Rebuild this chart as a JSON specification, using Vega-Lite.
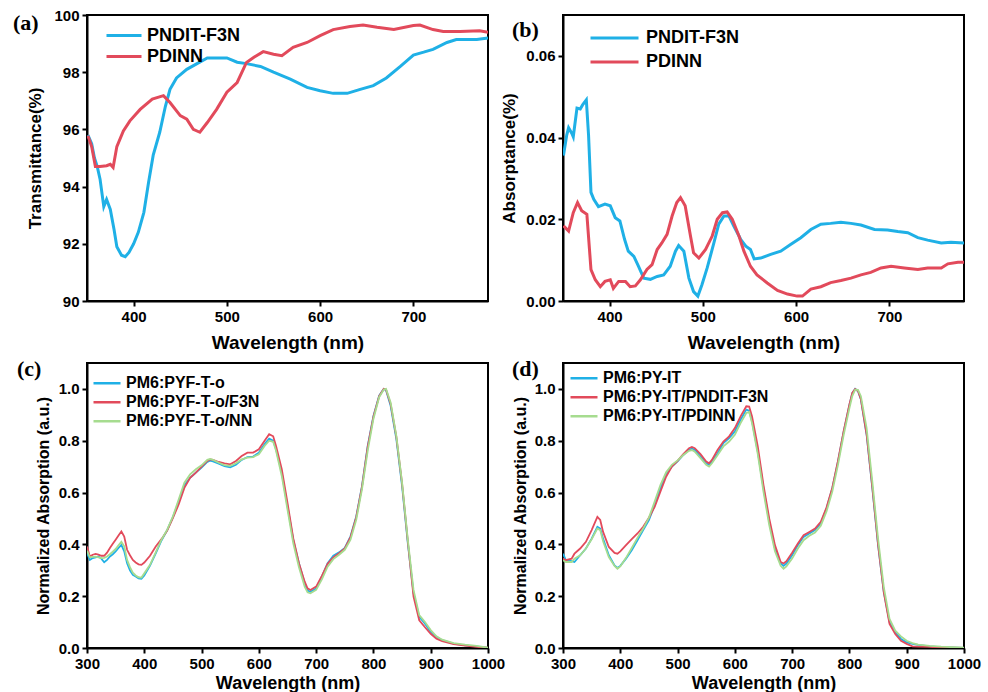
{
"$schema":"https://vega.github.io/schema/vega-lite/v6.json",
"padding":{"left":12,"top":7,"right":5,"bottom":5},
"bounds":"flush",
"columns":2,
"spacing":{"row":62,"column":75},
"resolve":{"scale":{"color":"independent","x":"independent","y":"independent"},"legend":{"color":"independent"}},
"datasets":{
"a":[
{"w":351,"s":"PNDIT-F3N","v":95.8},{"w":355,"s":"PNDIT-F3N","v":95.5},{"w":358,"s":"PNDIT-F3N","v":95.0},{"w":361,"s":"PNDIT-F3N","v":94.7},{"w":364,"s":"PNDIT-F3N","v":94.26},{"w":368,"s":"PNDIT-F3N","v":93.3},{"w":371,"s":"PNDIT-F3N","v":93.55},{"w":375,"s":"PNDIT-F3N","v":93.2},{"w":379,"s":"PNDIT-F3N","v":92.5},{"w":382,"s":"PNDIT-F3N","v":91.9},{"w":387,"s":"PNDIT-F3N","v":91.6},{"w":391,"s":"PNDIT-F3N","v":91.55},{"w":395,"s":"PNDIT-F3N","v":91.7},{"w":400,"s":"PNDIT-F3N","v":92.0},{"w":405,"s":"PNDIT-F3N","v":92.4},{"w":411,"s":"PNDIT-F3N","v":93.1},{"w":416,"s":"PNDIT-F3N","v":94.14},{"w":421,"s":"PNDIT-F3N","v":95.1},{"w":428,"s":"PNDIT-F3N","v":95.9},{"w":434,"s":"PNDIT-F3N","v":96.8},{"w":439,"s":"PNDIT-F3N","v":97.4},{"w":446,"s":"PNDIT-F3N","v":97.8},{"w":457,"s":"PNDIT-F3N","v":98.1},{"w":468,"s":"PNDIT-F3N","v":98.3},{"w":479,"s":"PNDIT-F3N","v":98.5},{"w":489,"s":"PNDIT-F3N","v":98.5},{"w":500,"s":"PNDIT-F3N","v":98.5},{"w":511,"s":"PNDIT-F3N","v":98.35},{"w":521,"s":"PNDIT-F3N","v":98.3},{"w":536,"s":"PNDIT-F3N","v":98.2},{"w":550,"s":"PNDIT-F3N","v":98.0},{"w":568,"s":"PNDIT-F3N","v":97.76},{"w":586,"s":"PNDIT-F3N","v":97.47},{"w":600,"s":"PNDIT-F3N","v":97.35},{"w":614,"s":"PNDIT-F3N","v":97.26},{"w":629,"s":"PNDIT-F3N","v":97.26},{"w":643,"s":"PNDIT-F3N","v":97.4},{"w":657,"s":"PNDIT-F3N","v":97.53},{"w":671,"s":"PNDIT-F3N","v":97.8},{"w":686,"s":"PNDIT-F3N","v":98.2},{"w":700,"s":"PNDIT-F3N","v":98.6},{"w":711,"s":"PNDIT-F3N","v":98.7},{"w":721,"s":"PNDIT-F3N","v":98.8},{"w":736,"s":"PNDIT-F3N","v":99.04},{"w":746,"s":"PNDIT-F3N","v":99.14},{"w":768,"s":"PNDIT-F3N","v":99.14},{"w":780,"s":"PNDIT-F3N","v":99.2},
{"w":351,"s":"PDINN","v":95.78},{"w":355,"s":"PDINN","v":95.4},{"w":359,"s":"PDINN","v":94.7},{"w":364,"s":"PDINN","v":94.7},{"w":371,"s":"PDINN","v":94.73},{"w":375,"s":"PDINN","v":94.78},{"w":378,"s":"PDINN","v":94.67},{"w":382,"s":"PDINN","v":95.4},{"w":389,"s":"PDINN","v":95.95},{"w":396,"s":"PDINN","v":96.3},{"w":407,"s":"PDINN","v":96.7},{"w":420,"s":"PDINN","v":97.06},{"w":432,"s":"PDINN","v":97.18},{"w":439,"s":"PDINN","v":96.94},{"w":450,"s":"PDINN","v":96.48},{"w":457,"s":"PDINN","v":96.36},{"w":464,"s":"PDINN","v":96.0},{"w":471,"s":"PDINN","v":95.9},{"w":479,"s":"PDINN","v":96.24},{"w":489,"s":"PDINN","v":96.7},{"w":500,"s":"PDINN","v":97.3},{"w":511,"s":"PDINN","v":97.64},{"w":521,"s":"PDINN","v":98.34},{"w":529,"s":"PDINN","v":98.52},{"w":539,"s":"PDINN","v":98.72},{"w":550,"s":"PDINN","v":98.63},{"w":559,"s":"PDINN","v":98.58},{"w":571,"s":"PDINN","v":98.87},{"w":586,"s":"PDINN","v":99.04},{"w":600,"s":"PDINN","v":99.28},{"w":614,"s":"PDINN","v":99.49},{"w":632,"s":"PDINN","v":99.6},{"w":646,"s":"PDINN","v":99.65},{"w":661,"s":"PDINN","v":99.57},{"w":679,"s":"PDINN","v":99.49},{"w":700,"s":"PDINN","v":99.63},{"w":707,"s":"PDINN","v":99.65},{"w":721,"s":"PDINN","v":99.49},{"w":732,"s":"PDINN","v":99.42},{"w":750,"s":"PDINN","v":99.42},{"w":771,"s":"PDINN","v":99.45},{"w":780,"s":"PDINN","v":99.4}
],
"b":[
{"w":350.5,"s":"PNDIT-F3N","v":0.0356},{"w":354,"s":"PNDIT-F3N","v":0.0406},{"w":356,"s":"PNDIT-F3N","v":0.0424},{"w":359.5,"s":"PNDIT-F3N","v":0.041},{"w":361,"s":"PNDIT-F3N","v":0.0402},{"w":365,"s":"PNDIT-F3N","v":0.0472},{"w":368.5,"s":"PNDIT-F3N","v":0.047},{"w":371,"s":"PNDIT-F3N","v":0.048},{"w":375,"s":"PNDIT-F3N","v":0.0492},{"w":377.4,"s":"PNDIT-F3N","v":0.0406},{"w":380,"s":"PNDIT-F3N","v":0.0266},{"w":383,"s":"PNDIT-F3N","v":0.0249},{"w":388,"s":"PNDIT-F3N","v":0.0231},{"w":395,"s":"PNDIT-F3N","v":0.0237},{"w":400.7,"s":"PNDIT-F3N","v":0.0233},{"w":406,"s":"PNDIT-F3N","v":0.0204},{"w":411,"s":"PNDIT-F3N","v":0.0196},{"w":416,"s":"PNDIT-F3N","v":0.0151},{"w":420,"s":"PNDIT-F3N","v":0.0122},{"w":426,"s":"PNDIT-F3N","v":0.0109},{"w":431,"s":"PNDIT-F3N","v":0.0085},{"w":436.6,"s":"PNDIT-F3N","v":0.0056},{"w":443.7,"s":"PNDIT-F3N","v":0.0053},{"w":451,"s":"PNDIT-F3N","v":0.006},{"w":458,"s":"PNDIT-F3N","v":0.0064},{"w":465,"s":"PNDIT-F3N","v":0.0085},{"w":470.6,"s":"PNDIT-F3N","v":0.0122},{"w":474,"s":"PNDIT-F3N","v":0.0136},{"w":479.6,"s":"PNDIT-F3N","v":0.0122},{"w":485,"s":"PNDIT-F3N","v":0.0056},{"w":490,"s":"PNDIT-F3N","v":0.0023},{"w":494.6,"s":"PNDIT-F3N","v":0.0012},{"w":499,"s":"PNDIT-F3N","v":0.004},{"w":504.6,"s":"PNDIT-F3N","v":0.0081},{"w":511.8,"s":"PNDIT-F3N","v":0.0142},{"w":517,"s":"PNDIT-F3N","v":0.0188},{"w":522.6,"s":"PNDIT-F3N","v":0.0208},{"w":528,"s":"PNDIT-F3N","v":0.0208},{"w":533,"s":"PNDIT-F3N","v":0.0184},{"w":540.5,"s":"PNDIT-F3N","v":0.0151},{"w":546,"s":"PNDIT-F3N","v":0.0134},{"w":551,"s":"PNDIT-F3N","v":0.0126},{"w":555,"s":"PNDIT-F3N","v":0.0103},{"w":562,"s":"PNDIT-F3N","v":0.0105},{"w":572.7,"s":"PNDIT-F3N","v":0.0114},{"w":583.5,"s":"PNDIT-F3N","v":0.0122},{"w":594,"s":"PNDIT-F3N","v":0.0138},{"w":605,"s":"PNDIT-F3N","v":0.0155},{"w":615.8,"s":"PNDIT-F3N","v":0.0175},{"w":626.5,"s":"PNDIT-F3N","v":0.0188},{"w":637,"s":"PNDIT-F3N","v":0.019},{"w":648,"s":"PNDIT-F3N","v":0.0193},{"w":658.8,"s":"PNDIT-F3N","v":0.019},{"w":669.5,"s":"PNDIT-F3N","v":0.0186},{"w":684,"s":"PNDIT-F3N","v":0.0175},{"w":698,"s":"PNDIT-F3N","v":0.0174},{"w":709,"s":"PNDIT-F3N","v":0.017},{"w":719.7,"s":"PNDIT-F3N","v":0.0167},{"w":730.5,"s":"PNDIT-F3N","v":0.0155},{"w":741,"s":"PNDIT-F3N","v":0.0149},{"w":755.6,"s":"PNDIT-F3N","v":0.0142},{"w":766,"s":"PNDIT-F3N","v":0.0144},{"w":780,"s":"PNDIT-F3N","v":0.0142},
{"w":350.5,"s":"PDINN","v":0.0184},{"w":356,"s":"PDINN","v":0.0171},{"w":361,"s":"PDINN","v":0.0216},{"w":365.6,"s":"PDINN","v":0.0241},{"w":370,"s":"PDINN","v":0.0221},{"w":375.6,"s":"PDINN","v":0.0212},{"w":380,"s":"PDINN","v":0.0077},{"w":384.6,"s":"PDINN","v":0.0052},{"w":390,"s":"PDINN","v":0.0035},{"w":395,"s":"PDINN","v":0.0048},{"w":400.7,"s":"PDINN","v":0.0052},{"w":404,"s":"PDINN","v":0.0031},{"w":409.7,"s":"PDINN","v":0.0048},{"w":417,"s":"PDINN","v":0.0048},{"w":422,"s":"PDINN","v":0.0035},{"w":427.6,"s":"PDINN","v":0.0037},{"w":433,"s":"PDINN","v":0.0052},{"w":440,"s":"PDINN","v":0.0077},{"w":445.5,"s":"PDINN","v":0.0089},{"w":451,"s":"PDINN","v":0.0126},{"w":456,"s":"PDINN","v":0.0142},{"w":461.6,"s":"PDINN","v":0.0163},{"w":467,"s":"PDINN","v":0.0208},{"w":472,"s":"PDINN","v":0.0241},{"w":476,"s":"PDINN","v":0.0253},{"w":481,"s":"PDINN","v":0.0233},{"w":486.7,"s":"PDINN","v":0.0159},{"w":490,"s":"PDINN","v":0.0118},{"w":495.7,"s":"PDINN","v":0.0105},{"w":502.9,"s":"PDINN","v":0.0126},{"w":510,"s":"PDINN","v":0.0159},{"w":515.4,"s":"PDINN","v":0.02},{"w":521,"s":"PDINN","v":0.0216},{"w":526,"s":"PDINN","v":0.0218},{"w":531.5,"s":"PDINN","v":0.02},{"w":538.7,"s":"PDINN","v":0.0159},{"w":544,"s":"PDINN","v":0.0122},{"w":551,"s":"PDINN","v":0.0085},{"w":558,"s":"PDINN","v":0.0064},{"w":569,"s":"PDINN","v":0.0044},{"w":580,"s":"PDINN","v":0.0026},{"w":590.7,"s":"PDINN","v":0.0017},{"w":601,"s":"PDINN","v":0.0012},{"w":606.8,"s":"PDINN","v":0.0012},{"w":615.8,"s":"PDINN","v":0.0029},{"w":626.5,"s":"PDINN","v":0.0035},{"w":637,"s":"PDINN","v":0.0045},{"w":648,"s":"PDINN","v":0.005},{"w":658.8,"s":"PDINN","v":0.0056},{"w":669.5,"s":"PDINN","v":0.0064},{"w":680,"s":"PDINN","v":0.007},{"w":691,"s":"PDINN","v":0.0081},{"w":701.8,"s":"PDINN","v":0.0085},{"w":716,"s":"PDINN","v":0.0081},{"w":730.5,"s":"PDINN","v":0.0077},{"w":741,"s":"PDINN","v":0.0081},{"w":755.6,"s":"PDINN","v":0.0081},{"w":762.7,"s":"PDINN","v":0.0091},{"w":773.5,"s":"PDINN","v":0.0095},{"w":780,"s":"PDINN","v":0.0095}
],
"c":[
{"w":300,"PM6:PYF-T-o":0.366,"PM6:PYF-T-o/F3N":0.392,"PM6:PYF-T-o/NN":0.376},
{"w":305,"PM6:PYF-T-o":0.340,"PM6:PYF-T-o/F3N":0.353,"PM6:PYF-T-o/NN":0.350},
{"w":310,"PM6:PYF-T-o":0.347,"PM6:PYF-T-o/F3N":0.360,"PM6:PYF-T-o/NN":0.352},
{"w":315,"PM6:PYF-T-o":0.350,"PM6:PYF-T-o/F3N":0.363,"PM6:PYF-T-o/NN":0.353},
{"w":320,"PM6:PYF-T-o":0.353,"PM6:PYF-T-o/F3N":0.360,"PM6:PYF-T-o/NN":0.350},
{"w":325,"PM6:PYF-T-o":0.345,"PM6:PYF-T-o/F3N":0.356,"PM6:PYF-T-o/NN":0.347},
{"w":330,"PM6:PYF-T-o":0.331,"PM6:PYF-T-o/F3N":0.356,"PM6:PYF-T-o/NN":0.348},
{"w":335,"PM6:PYF-T-o":0.340,"PM6:PYF-T-o/F3N":0.368,"PM6:PYF-T-o/NN":0.353},
{"w":340,"PM6:PYF-T-o":0.353,"PM6:PYF-T-o/F3N":0.386,"PM6:PYF-T-o/NN":0.362},
{"w":345,"PM6:PYF-T-o":0.362,"PM6:PYF-T-o/F3N":0.402,"PM6:PYF-T-o/NN":0.372},
{"w":350,"PM6:PYF-T-o":0.373,"PM6:PYF-T-o/F3N":0.418,"PM6:PYF-T-o/NN":0.382},
{"w":355,"PM6:PYF-T-o":0.386,"PM6:PYF-T-o/F3N":0.434,"PM6:PYF-T-o/NN":0.396},
{"w":360,"PM6:PYF-T-o":0.398,"PM6:PYF-T-o/F3N":0.450,"PM6:PYF-T-o/NN":0.410},
{"w":365,"PM6:PYF-T-o":0.373,"PM6:PYF-T-o/F3N":0.430,"PM6:PYF-T-o/NN":0.392},
{"w":370,"PM6:PYF-T-o":0.327,"PM6:PYF-T-o/F3N":0.379,"PM6:PYF-T-o/NN":0.340},
{"w":375,"PM6:PYF-T-o":0.300,"PM6:PYF-T-o/F3N":0.358,"PM6:PYF-T-o/NN":0.312},
{"w":380,"PM6:PYF-T-o":0.282,"PM6:PYF-T-o/F3N":0.340,"PM6:PYF-T-o/NN":0.291},
{"w":385,"PM6:PYF-T-o":0.276,"PM6:PYF-T-o/F3N":0.330,"PM6:PYF-T-o/NN":0.280},
{"w":390,"PM6:PYF-T-o":0.269,"PM6:PYF-T-o/F3N":0.323,"PM6:PYF-T-o/NN":0.273},
{"w":395,"PM6:PYF-T-o":0.267,"PM6:PYF-T-o/F3N":0.321,"PM6:PYF-T-o/NN":0.272},
{"w":400,"PM6:PYF-T-o":0.280,"PM6:PYF-T-o/F3N":0.330,"PM6:PYF-T-o/NN":0.288},
{"w":410,"PM6:PYF-T-o":0.318,"PM6:PYF-T-o/F3N":0.356,"PM6:PYF-T-o/NN":0.321},
{"w":420,"PM6:PYF-T-o":0.365,"PM6:PYF-T-o/F3N":0.392,"PM6:PYF-T-o/NN":0.369},
{"w":430,"PM6:PYF-T-o":0.415,"PM6:PYF-T-o/F3N":0.420,"PM6:PYF-T-o/NN":0.418},
{"w":440,"PM6:PYF-T-o":0.455,"PM6:PYF-T-o/F3N":0.453,"PM6:PYF-T-o/NN":0.457},
{"w":450,"PM6:PYF-T-o":0.505,"PM6:PYF-T-o/F3N":0.502,"PM6:PYF-T-o/NN":0.508},
{"w":460,"PM6:PYF-T-o":0.565,"PM6:PYF-T-o/F3N":0.554,"PM6:PYF-T-o/NN":0.573},
{"w":470,"PM6:PYF-T-o":0.628,"PM6:PYF-T-o/F3N":0.618,"PM6:PYF-T-o/NN":0.638},
{"w":480,"PM6:PYF-T-o":0.657,"PM6:PYF-T-o/F3N":0.657,"PM6:PYF-T-o/NN":0.670},
{"w":490,"PM6:PYF-T-o":0.677,"PM6:PYF-T-o/F3N":0.677,"PM6:PYF-T-o/NN":0.690},
{"w":500,"PM6:PYF-T-o":0.696,"PM6:PYF-T-o/F3N":0.700,"PM6:PYF-T-o/NN":0.705},
{"w":510,"PM6:PYF-T-o":0.718,"PM6:PYF-T-o/F3N":0.722,"PM6:PYF-T-o/NN":0.726},
{"w":515,"PM6:PYF-T-o":0.723,"PM6:PYF-T-o/F3N":0.728,"PM6:PYF-T-o/NN":0.730},
{"w":520,"PM6:PYF-T-o":0.720,"PM6:PYF-T-o/F3N":0.726,"PM6:PYF-T-o/NN":0.726},
{"w":530,"PM6:PYF-T-o":0.711,"PM6:PYF-T-o/F3N":0.718,"PM6:PYF-T-o/NN":0.715},
{"w":540,"PM6:PYF-T-o":0.702,"PM6:PYF-T-o/F3N":0.713,"PM6:PYF-T-o/NN":0.706},
{"w":550,"PM6:PYF-T-o":0.697,"PM6:PYF-T-o/F3N":0.709,"PM6:PYF-T-o/NN":0.703},
{"w":560,"PM6:PYF-T-o":0.707,"PM6:PYF-T-o/F3N":0.722,"PM6:PYF-T-o/NN":0.713},
{"w":570,"PM6:PYF-T-o":0.726,"PM6:PYF-T-o/F3N":0.741,"PM6:PYF-T-o/NN":0.728},
{"w":580,"PM6:PYF-T-o":0.737,"PM6:PYF-T-o/F3N":0.754,"PM6:PYF-T-o/NN":0.735},
{"w":590,"PM6:PYF-T-o":0.739,"PM6:PYF-T-o/F3N":0.754,"PM6:PYF-T-o/NN":0.737},
{"w":600,"PM6:PYF-T-o":0.754,"PM6:PYF-T-o/F3N":0.767,"PM6:PYF-T-o/NN":0.748},
{"w":610,"PM6:PYF-T-o":0.787,"PM6:PYF-T-o/F3N":0.800,"PM6:PYF-T-o/NN":0.780},
{"w":618,"PM6:PYF-T-o":0.808,"PM6:PYF-T-o/F3N":0.825,"PM6:PYF-T-o/NN":0.800},
{"w":625,"PM6:PYF-T-o":0.800,"PM6:PYF-T-o/F3N":0.817,"PM6:PYF-T-o/NN":0.796},
{"w":630,"PM6:PYF-T-o":0.767,"PM6:PYF-T-o/F3N":0.780,"PM6:PYF-T-o/NN":0.761},
{"w":640,"PM6:PYF-T-o":0.677,"PM6:PYF-T-o/F3N":0.690,"PM6:PYF-T-o/NN":0.664},
{"w":650,"PM6:PYF-T-o":0.547,"PM6:PYF-T-o/F3N":0.560,"PM6:PYF-T-o/NN":0.534},
{"w":660,"PM6:PYF-T-o":0.418,"PM6:PYF-T-o/F3N":0.424,"PM6:PYF-T-o/NN":0.405},
{"w":670,"PM6:PYF-T-o":0.327,"PM6:PYF-T-o/F3N":0.327,"PM6:PYF-T-o/NN":0.312},
{"w":680,"PM6:PYF-T-o":0.250,"PM6:PYF-T-o/F3N":0.256,"PM6:PYF-T-o/NN":0.237},
{"w":685,"PM6:PYF-T-o":0.222,"PM6:PYF-T-o/F3N":0.230,"PM6:PYF-T-o/NN":0.215},
{"w":690,"PM6:PYF-T-o":0.217,"PM6:PYF-T-o/F3N":0.224,"PM6:PYF-T-o/NN":0.211},
{"w":700,"PM6:PYF-T-o":0.230,"PM6:PYF-T-o/F3N":0.237,"PM6:PYF-T-o/NN":0.224},
{"w":710,"PM6:PYF-T-o":0.276,"PM6:PYF-T-o/F3N":0.278,"PM6:PYF-T-o/NN":0.265},
{"w":720,"PM6:PYF-T-o":0.327,"PM6:PYF-T-o/F3N":0.325,"PM6:PYF-T-o/NN":0.314},
{"w":730,"PM6:PYF-T-o":0.356,"PM6:PYF-T-o/F3N":0.350,"PM6:PYF-T-o/NN":0.343},
{"w":740,"PM6:PYF-T-o":0.369,"PM6:PYF-T-o/F3N":0.366,"PM6:PYF-T-o/NN":0.360},
{"w":750,"PM6:PYF-T-o":0.386,"PM6:PYF-T-o/F3N":0.384,"PM6:PYF-T-o/NN":0.379},
{"w":760,"PM6:PYF-T-o":0.431,"PM6:PYF-T-o/F3N":0.428,"PM6:PYF-T-o/NN":0.418},
{"w":770,"PM6:PYF-T-o":0.508,"PM6:PYF-T-o/F3N":0.505,"PM6:PYF-T-o/NN":0.495},
{"w":780,"PM6:PYF-T-o":0.625,"PM6:PYF-T-o/F3N":0.622,"PM6:PYF-T-o/NN":0.612},
{"w":790,"PM6:PYF-T-o":0.780,"PM6:PYF-T-o/F3N":0.776,"PM6:PYF-T-o/NN":0.761},
{"w":800,"PM6:PYF-T-o":0.896,"PM6:PYF-T-o/F3N":0.893,"PM6:PYF-T-o/NN":0.884},
{"w":810,"PM6:PYF-T-o":0.974,"PM6:PYF-T-o/F3N":0.972,"PM6:PYF-T-o/NN":0.968},
{"w":818,"PM6:PYF-T-o":1.000,"PM6:PYF-T-o/F3N":1.000,"PM6:PYF-T-o/NN":0.998},
{"w":822,"PM6:PYF-T-o":0.995,"PM6:PYF-T-o/F3N":0.997,"PM6:PYF-T-o/NN":1.000},
{"w":830,"PM6:PYF-T-o":0.935,"PM6:PYF-T-o/F3N":0.942,"PM6:PYF-T-o/NN":0.948},
{"w":840,"PM6:PYF-T-o":0.806,"PM6:PYF-T-o/F3N":0.815,"PM6:PYF-T-o/NN":0.819},
{"w":850,"PM6:PYF-T-o":0.625,"PM6:PYF-T-o/F3N":0.635,"PM6:PYF-T-o/NN":0.638},
{"w":860,"PM6:PYF-T-o":0.405,"PM6:PYF-T-o/F3N":0.412,"PM6:PYF-T-o/NN":0.418},
{"w":870,"PM6:PYF-T-o":0.211,"PM6:PYF-T-o/F3N":0.198,"PM6:PYF-T-o/NN":0.224},
{"w":880,"PM6:PYF-T-o":0.120,"PM6:PYF-T-o/F3N":0.107,"PM6:PYF-T-o/NN":0.127},
{"w":890,"PM6:PYF-T-o":0.094,"PM6:PYF-T-o/F3N":0.080,"PM6:PYF-T-o/NN":0.100},
{"w":900,"PM6:PYF-T-o":0.062,"PM6:PYF-T-o/F3N":0.055,"PM6:PYF-T-o/NN":0.069},
{"w":910,"PM6:PYF-T-o":0.043,"PM6:PYF-T-o/F3N":0.036,"PM6:PYF-T-o/NN":0.045},
{"w":920,"PM6:PYF-T-o":0.030,"PM6:PYF-T-o/F3N":0.026,"PM6:PYF-T-o/NN":0.032},
{"w":940,"PM6:PYF-T-o":0.017,"PM6:PYF-T-o/F3N":0.015,"PM6:PYF-T-o/NN":0.019},
{"w":960,"PM6:PYF-T-o":0.010,"PM6:PYF-T-o/F3N":0.009,"PM6:PYF-T-o/NN":0.013},
{"w":980,"PM6:PYF-T-o":0.006,"PM6:PYF-T-o/F3N":0.004,"PM6:PYF-T-o/NN":0.008},
{"w":1000,"PM6:PYF-T-o":0.000,"PM6:PYF-T-o/F3N":0.001,"PM6:PYF-T-o/NN":0.001}
],
"d":[
{"w":300,"PM6:PY-IT":0.364,"PM6:PY-IT/PNDIT-F3N":0.345,"PM6:PY-IT/PDINN":0.339},
{"w":305,"PM6:PY-IT":0.339,"PM6:PY-IT/PNDIT-F3N":0.339,"PM6:PY-IT/PDINN":0.332},
{"w":310,"PM6:PY-IT":0.339,"PM6:PY-IT/PNDIT-F3N":0.342,"PM6:PY-IT/PDINN":0.332},
{"w":315,"PM6:PY-IT":0.335,"PM6:PY-IT/PNDIT-F3N":0.345,"PM6:PY-IT/PDINN":0.332},
{"w":320,"PM6:PY-IT":0.332,"PM6:PY-IT/PNDIT-F3N":0.364,"PM6:PY-IT/PDINN":0.345},
{"w":330,"PM6:PY-IT":0.358,"PM6:PY-IT/PNDIT-F3N":0.384,"PM6:PY-IT/PDINN":0.358},
{"w":340,"PM6:PY-IT":0.384,"PM6:PY-IT/PNDIT-F3N":0.410,"PM6:PY-IT/PDINN":0.384},
{"w":350,"PM6:PY-IT":0.422,"PM6:PY-IT/PNDIT-F3N":0.455,"PM6:PY-IT/PDINN":0.420},
{"w":360,"PM6:PY-IT":0.468,"PM6:PY-IT/PNDIT-F3N":0.506,"PM6:PY-IT/PDINN":0.461},
{"w":365,"PM6:PY-IT":0.461,"PM6:PY-IT/PNDIT-F3N":0.494,"PM6:PY-IT/PDINN":0.455},
{"w":370,"PM6:PY-IT":0.422,"PM6:PY-IT/PNDIT-F3N":0.448,"PM6:PY-IT/PDINN":0.412},
{"w":380,"PM6:PY-IT":0.358,"PM6:PY-IT/PNDIT-F3N":0.390,"PM6:PY-IT/PDINN":0.351},
{"w":390,"PM6:PY-IT":0.319,"PM6:PY-IT/PNDIT-F3N":0.367,"PM6:PY-IT/PDINN":0.317},
{"w":395,"PM6:PY-IT":0.309,"PM6:PY-IT/PNDIT-F3N":0.364,"PM6:PY-IT/PDINN":0.306},
{"w":400,"PM6:PY-IT":0.317,"PM6:PY-IT/PNDIT-F3N":0.373,"PM6:PY-IT/PDINN":0.315},
{"w":410,"PM6:PY-IT":0.345,"PM6:PY-IT/PNDIT-F3N":0.397,"PM6:PY-IT/PDINN":0.348},
{"w":420,"PM6:PY-IT":0.377,"PM6:PY-IT/PNDIT-F3N":0.420,"PM6:PY-IT/PDINN":0.386},
{"w":430,"PM6:PY-IT":0.416,"PM6:PY-IT/PNDIT-F3N":0.442,"PM6:PY-IT/PDINN":0.425},
{"w":440,"PM6:PY-IT":0.455,"PM6:PY-IT/PNDIT-F3N":0.468,"PM6:PY-IT/PDINN":0.461},
{"w":450,"PM6:PY-IT":0.494,"PM6:PY-IT/PNDIT-F3N":0.503,"PM6:PY-IT/PDINN":0.503},
{"w":460,"PM6:PY-IT":0.552,"PM6:PY-IT/PNDIT-F3N":0.545,"PM6:PY-IT/PDINN":0.565},
{"w":470,"PM6:PY-IT":0.616,"PM6:PY-IT/PNDIT-F3N":0.603,"PM6:PY-IT/PDINN":0.629},
{"w":480,"PM6:PY-IT":0.671,"PM6:PY-IT/PNDIT-F3N":0.661,"PM6:PY-IT/PDINN":0.678},
{"w":490,"PM6:PY-IT":0.700,"PM6:PY-IT/PNDIT-F3N":0.700,"PM6:PY-IT/PDINN":0.707},
{"w":500,"PM6:PY-IT":0.720,"PM6:PY-IT/PNDIT-F3N":0.722,"PM6:PY-IT/PDINN":0.724},
{"w":510,"PM6:PY-IT":0.745,"PM6:PY-IT/PNDIT-F3N":0.748,"PM6:PY-IT/PDINN":0.745},
{"w":520,"PM6:PY-IT":0.765,"PM6:PY-IT/PNDIT-F3N":0.771,"PM6:PY-IT/PDINN":0.761},
{"w":525,"PM6:PY-IT":0.769,"PM6:PY-IT/PNDIT-F3N":0.776,"PM6:PY-IT/PDINN":0.764},
{"w":530,"PM6:PY-IT":0.765,"PM6:PY-IT/PNDIT-F3N":0.771,"PM6:PY-IT/PDINN":0.758},
{"w":540,"PM6:PY-IT":0.739,"PM6:PY-IT/PNDIT-F3N":0.748,"PM6:PY-IT/PDINN":0.733},
{"w":550,"PM6:PY-IT":0.713,"PM6:PY-IT/PNDIT-F3N":0.720,"PM6:PY-IT/PDINN":0.707},
{"w":555,"PM6:PY-IT":0.707,"PM6:PY-IT/PNDIT-F3N":0.713,"PM6:PY-IT/PDINN":0.700},
{"w":560,"PM6:PY-IT":0.720,"PM6:PY-IT/PNDIT-F3N":0.726,"PM6:PY-IT/PDINN":0.713},
{"w":570,"PM6:PY-IT":0.752,"PM6:PY-IT/PNDIT-F3N":0.765,"PM6:PY-IT/PDINN":0.745},
{"w":580,"PM6:PY-IT":0.791,"PM6:PY-IT/PNDIT-F3N":0.797,"PM6:PY-IT/PDINN":0.778},
{"w":590,"PM6:PY-IT":0.810,"PM6:PY-IT/PNDIT-F3N":0.817,"PM6:PY-IT/PDINN":0.797},
{"w":600,"PM6:PY-IT":0.836,"PM6:PY-IT/PNDIT-F3N":0.849,"PM6:PY-IT/PDINN":0.823},
{"w":610,"PM6:PY-IT":0.881,"PM6:PY-IT/PNDIT-F3N":0.894,"PM6:PY-IT/PDINN":0.868},
{"w":620,"PM6:PY-IT":0.920,"PM6:PY-IT/PNDIT-F3N":0.933,"PM6:PY-IT/PDINN":0.907},
{"w":625,"PM6:PY-IT":0.916,"PM6:PY-IT/PNDIT-F3N":0.932,"PM6:PY-IT/PDINN":0.911},
{"w":630,"PM6:PY-IT":0.875,"PM6:PY-IT/PNDIT-F3N":0.894,"PM6:PY-IT/PDINN":0.868},
{"w":640,"PM6:PY-IT":0.758,"PM6:PY-IT/PNDIT-F3N":0.778,"PM6:PY-IT/PDINN":0.748},
{"w":650,"PM6:PY-IT":0.616,"PM6:PY-IT/PNDIT-F3N":0.629,"PM6:PY-IT/PDINN":0.603},
{"w":660,"PM6:PY-IT":0.487,"PM6:PY-IT/PNDIT-F3N":0.500,"PM6:PY-IT/PDINN":0.474},
{"w":670,"PM6:PY-IT":0.384,"PM6:PY-IT/PNDIT-F3N":0.397,"PM6:PY-IT/PDINN":0.373},
{"w":680,"PM6:PY-IT":0.326,"PM6:PY-IT/PNDIT-F3N":0.332,"PM6:PY-IT/PDINN":0.317},
{"w":685,"PM6:PY-IT":0.317,"PM6:PY-IT/PNDIT-F3N":0.326,"PM6:PY-IT/PDINN":0.306},
{"w":690,"PM6:PY-IT":0.326,"PM6:PY-IT/PNDIT-F3N":0.335,"PM6:PY-IT/PDINN":0.315},
{"w":700,"PM6:PY-IT":0.358,"PM6:PY-IT/PNDIT-F3N":0.368,"PM6:PY-IT/PDINN":0.345},
{"w":710,"PM6:PY-IT":0.397,"PM6:PY-IT/PNDIT-F3N":0.403,"PM6:PY-IT/PDINN":0.384},
{"w":720,"PM6:PY-IT":0.429,"PM6:PY-IT/PNDIT-F3N":0.435,"PM6:PY-IT/PDINN":0.416},
{"w":730,"PM6:PY-IT":0.442,"PM6:PY-IT/PNDIT-F3N":0.448,"PM6:PY-IT/PDINN":0.433},
{"w":740,"PM6:PY-IT":0.455,"PM6:PY-IT/PNDIT-F3N":0.461,"PM6:PY-IT/PDINN":0.446},
{"w":750,"PM6:PY-IT":0.481,"PM6:PY-IT/PNDIT-F3N":0.487,"PM6:PY-IT/PDINN":0.472},
{"w":760,"PM6:PY-IT":0.539,"PM6:PY-IT/PNDIT-F3N":0.542,"PM6:PY-IT/PDINN":0.527},
{"w":770,"PM6:PY-IT":0.616,"PM6:PY-IT/PNDIT-F3N":0.618,"PM6:PY-IT/PDINN":0.603},
{"w":780,"PM6:PY-IT":0.720,"PM6:PY-IT/PNDIT-F3N":0.722,"PM6:PY-IT/PDINN":0.707},
{"w":790,"PM6:PY-IT":0.836,"PM6:PY-IT/PNDIT-F3N":0.838,"PM6:PY-IT/PDINN":0.823},
{"w":800,"PM6:PY-IT":0.939,"PM6:PY-IT/PNDIT-F3N":0.940,"PM6:PY-IT/PDINN":0.926},
{"w":805,"PM6:PY-IT":0.984,"PM6:PY-IT/PNDIT-F3N":0.985,"PM6:PY-IT/PDINN":0.972},
{"w":810,"PM6:PY-IT":1.000,"PM6:PY-IT/PNDIT-F3N":1.000,"PM6:PY-IT/PDINN":0.997},
{"w":815,"PM6:PY-IT":0.991,"PM6:PY-IT/PNDIT-F3N":0.992,"PM6:PY-IT/PDINN":0.996},
{"w":820,"PM6:PY-IT":0.959,"PM6:PY-IT/PNDIT-F3N":0.960,"PM6:PY-IT/PDINN":0.972},
{"w":830,"PM6:PY-IT":0.823,"PM6:PY-IT/PNDIT-F3N":0.825,"PM6:PY-IT/PDINN":0.849},
{"w":840,"PM6:PY-IT":0.616,"PM6:PY-IT/PNDIT-F3N":0.620,"PM6:PY-IT/PDINN":0.642},
{"w":850,"PM6:PY-IT":0.397,"PM6:PY-IT/PNDIT-F3N":0.400,"PM6:PY-IT/PDINN":0.422},
{"w":860,"PM6:PY-IT":0.216,"PM6:PY-IT/PNDIT-F3N":0.215,"PM6:PY-IT/PDINN":0.235},
{"w":870,"PM6:PY-IT":0.100,"PM6:PY-IT/PNDIT-F3N":0.093,"PM6:PY-IT/PDINN":0.112},
{"w":880,"PM6:PY-IT":0.061,"PM6:PY-IT/PNDIT-F3N":0.054,"PM6:PY-IT/PDINN":0.067},
{"w":890,"PM6:PY-IT":0.035,"PM6:PY-IT/PNDIT-F3N":0.028,"PM6:PY-IT/PDINN":0.045},
{"w":900,"PM6:PY-IT":0.022,"PM6:PY-IT/PNDIT-F3N":0.016,"PM6:PY-IT/PDINN":0.028},
{"w":910,"PM6:PY-IT":0.016,"PM6:PY-IT/PNDIT-F3N":0.006,"PM6:PY-IT/PDINN":0.019},
{"w":920,"PM6:PY-IT":0.012,"PM6:PY-IT/PNDIT-F3N":0.005,"PM6:PY-IT/PDINN":0.013},
{"w":940,"PM6:PY-IT":0.006,"PM6:PY-IT/PNDIT-F3N":0.004,"PM6:PY-IT/PDINN":0.008},
{"w":960,"PM6:PY-IT":0.003,"PM6:PY-IT/PNDIT-F3N":0.002,"PM6:PY-IT/PDINN":0.005},
{"w":1000,"PM6:PY-IT":0.000,"PM6:PY-IT/PNDIT-F3N":0.000,"PM6:PY-IT/PDINN":0.001}
]
},
"concat":[
{
"width":401,"height":286,
"title":{"text":"(a)","anchor":"start","frame":"group","font":"Liberation Serif","fontSize":22,"fontWeight":"bold","color":"black","dx":-74,"dy":49,"offset":0,"baseline":"bottom"},
"data":{"name":"a"},
"mark":{"type":"line","strokeWidth":3,"clip":true},
"encoding":{
"x":{"field":"w","type":"quantitative","scale":{"domain":[350,780],"nice":false,"zero":false},"axis":{"values":[400,500,600,700],"title":"Wavelength (nm)","titleFontSize":19,"titlePadding":9}},
"y":{"field":"v","type":"quantitative","scale":{"domain":[90,100],"nice":false,"zero":false},"axis":{"values":[90,92,94,96,98,100],"title":"Transmittance(%)","titleFontSize":17,"titlePadding":9}},
"color":{"field":"s","type":"nominal","scale":{"domain":["PNDIT-F3N","PDINN"],"range":["#1fb0e6","#e24a5b"]},
"legend":{"title":null,"orient":"none","legendX":18,"legendY":10,"symbolType":"stroke","symbolSize":1225,"symbolStrokeWidth":3,"clipHeight":21,"rowPadding":0,"labelFontSize":18,"labelOffset":4,"padding":0,"labelLimit":300}}
}
},
{
"width":401,"height":286,
"title":{"text":"(b)","anchor":"start","frame":"group","font":"Liberation Serif","fontSize":22,"fontWeight":"bold","color":"black","dx":-51,"dy":49,"offset":0,"baseline":"bottom"},
"data":{"name":"b"},
"mark":{"type":"line","strokeWidth":3,"clip":true},
"encoding":{
"x":{"field":"w","type":"quantitative","scale":{"domain":[350,780],"nice":false,"zero":false},"axis":{"values":[400,500,600,700],"title":"Wavelength (nm)","titleFontSize":19,"titlePadding":9}},
"y":{"field":"v","type":"quantitative","scale":{"domain":[0,0.07],"nice":false,"zero":false},"axis":{"values":[0,0.02,0.04,0.06],"format":".2f","title":"Absorptance(%)","titleFontSize":17,"titlePadding":7}},
"color":{"field":"s","type":"nominal","scale":{"domain":["PNDIT-F3N","PDINN"],"range":["#1fb0e6","#e24a5b"]},
"legend":{"title":null,"orient":"none","legendX":26,"legendY":11,"symbolType":"stroke","symbolSize":2304,"symbolStrokeWidth":3,"clipHeight":24,"rowPadding":0,"labelFontSize":18,"labelOffset":6,"padding":0,"labelLimit":300}}
}
},
{
"width":401,"height":285,
"title":{"text":"(c)","anchor":"start","frame":"group","font":"Liberation Serif","fontSize":22,"fontWeight":"bold","color":"black","dx":-70,"dy":40,"offset":0,"baseline":"bottom"},
"data":{"name":"c"},
"transform":[{"fold":["PM6:PYF-T-o","PM6:PYF-T-o/F3N","PM6:PYF-T-o/NN"],"as":["s","v"]}],
"mark":{"type":"line","strokeWidth":1.8,"clip":true},
"encoding":{
"x":{"field":"w","type":"quantitative","scale":{"domain":[300,1000],"nice":false,"zero":false},"axis":{"values":[300,400,500,600,700,800,900,1000],"format":"d","title":"Wavelength (nm)","titleFontSize":18,"titlePadding":3}},
"y":{"field":"v","type":"quantitative","scale":{"domain":[0,1.1],"nice":false,"zero":false},"axis":{"values":[0,0.2,0.4,0.6,0.8,1.0],"format":".1f","title":"Normalized Absorption (a.u.)","titleFontSize":16,"titlePadding":7}},
"color":{"field":"s","type":"nominal","scale":{"domain":["PM6:PYF-T-o","PM6:PYF-T-o/F3N","PM6:PYF-T-o/NN"],"range":["#1fb0e6","#e24a5b","#a6dc8f"]},
"legend":{"title":null,"orient":"none","legendX":5,"legendY":11,"symbolType":"stroke","symbolSize":729,"symbolStrokeWidth":2.5,"clipHeight":18.5,"rowPadding":0,"labelFontSize":16,"labelOffset":4,"padding":0,"labelLimit":300}}
}
},
{
"width":401,"height":285,
"title":{"text":"(d)","anchor":"start","frame":"group","font":"Liberation Serif","fontSize":22,"fontWeight":"bold","color":"black","dx":-51,"dy":40,"offset":0,"baseline":"bottom"},
"data":{"name":"d"},
"transform":[{"fold":["PM6:PY-IT","PM6:PY-IT/PNDIT-F3N","PM6:PY-IT/PDINN"],"as":["s","v"]}],
"mark":{"type":"line","strokeWidth":1.8,"clip":true},
"encoding":{
"x":{"field":"w","type":"quantitative","scale":{"domain":[300,1000],"nice":false,"zero":false},"axis":{"values":[300,400,500,600,700,800,900,1000],"format":"d","title":"Wavelength (nm)","titleFontSize":18,"titlePadding":3}},
"y":{"field":"v","type":"quantitative","scale":{"domain":[0,1.1],"nice":false,"zero":false},"axis":{"values":[0,0.2,0.4,0.6,0.8,1.0],"format":".1f","title":"Normalized Absorption (a.u.)","titleFontSize":16,"titlePadding":6}},
"color":{"field":"s","type":"nominal","scale":{"domain":["PM6:PY-IT","PM6:PY-IT/PNDIT-F3N","PM6:PY-IT/PDINN"],"range":["#1fb0e6","#e24a5b","#a6dc8f"]},
"legend":{"title":null,"orient":"none","legendX":6,"legendY":6,"symbolType":"stroke","symbolSize":729,"symbolStrokeWidth":2.5,"clipHeight":18.5,"rowPadding":0,"labelFontSize":16,"labelOffset":4,"padding":0,"labelLimit":300}}
}
}
],
"config":{
"background":"white",
"font":"Liberation Sans",
"view":{"stroke":"black","strokeWidth":2},
"axis":{"grid":false,"domainColor":"black","domainWidth":2,"tickColor":"black","tickWidth":2,"tickSize":5,"labelColor":"black","titleColor":"black","labelFont":"Liberation Sans","titleFont":"Liberation Sans","labelFontWeight":"bold","titleFontWeight":"bold","labelFontSize":15,"labelFlush":false,"labelOverlap":false,"labelPadding":3},
"legend":{"labelFont":"Liberation Sans","labelFontWeight":"bold","labelColor":"black","fillColor":null,"strokeColor":null}
}
}
